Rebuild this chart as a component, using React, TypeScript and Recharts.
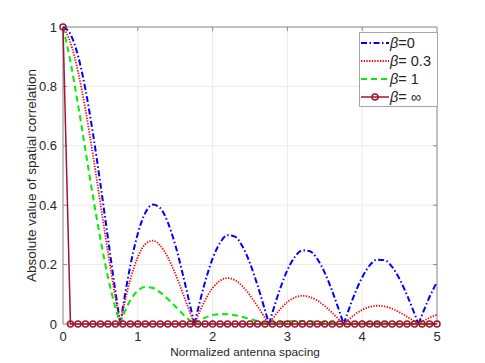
import React from 'react';
import {
  LineChart,
  Line,
  XAxis,
  YAxis,
  CartesianGrid,
  ReferenceLine,
  Legend,
} from 'recharts';

// normalized antenna spacing, sampled every 0.1
const xs = [
  0, 0.1, 0.2, 0.3, 0.4, 0.5, 0.6, 0.7, 0.8, 0.9,
  1, 1.1, 1.2, 1.3, 1.4, 1.5, 1.6, 1.7, 1.8, 1.9,
  2, 2.1, 2.2, 2.3, 2.4, 2.5, 2.6, 2.7, 2.8, 2.9,
  3, 3.1, 3.2, 3.3, 3.4, 3.5, 3.6, 3.7, 3.8, 3.9,
  4, 4.1, 4.2, 4.3, 4.4, 4.5, 4.6, 4.7, 4.8, 4.9, 5,
];

// spacings where the correlation touches zero (cusps)
const zeroXs = [0.766, 1.757, 2.755, 3.753, 4.752];

const beta0 = [
  1, 0.9755, 0.9037, 0.79, 0.6425, 0.472, 0.2906, 0.111, 0.0549, 0.1961,
  0.3042, 0.3741, 0.402, 0.3903, 0.3427, 0.2672, 0.1688, 0.0614, 0.0448, 0.142,
  0.2203, 0.2735, 0.2989, 0.294, 0.2611, 0.2045, 0.1306, 0.0468, 0.0383, 0.1168,
  0.1813, 0.2263, 0.248, 0.2452, 0.2188, 0.1721, 0.1101, 0.0391, 0.0337, 0.1014,
  0.1576, 0.1971, 0.2167, 0.2148, 0.1921, 0.1514, 0.0969, 0.0342, 0.0305, 0.0909, 0.1412,
];

const beta03 = [
  1, 0.9467, 0.8511, 0.722, 0.5698, 0.4063, 0.2427, 0.09, 0.0432, 0.1497,
  0.2254, 0.269, 0.2805, 0.2643, 0.2252, 0.1704, 0.1045, 0.0369, 0.0261, 0.0803,
  0.1209, 0.1457, 0.1545, 0.1475, 0.1271, 0.0966, 0.0599, 0.0208, 0.0165, 0.0489,
  0.0737, 0.0893, 0.095, 0.0911, 0.0789, 0.0602, 0.0374, 0.0129, 0.0108, 0.0315,
  0.0475, 0.0576, 0.0615, 0.0591, 0.0513, 0.0392, 0.0244, 0.0083, 0.0072, 0.0209, 0.0315,
];

const beta1 = [
  1, 0.8827, 0.7399, 0.5852, 0.4307, 0.2863, 0.1595, 0.0551, 0.0247, 0.0797,
  0.1119, 0.1245, 0.1211, 0.1064, 0.0845, 0.0596, 0.0341, 0.0112, 0.0074, 0.0212,
  0.0298, 0.0335, 0.0331, 0.0295, 0.0237, 0.0168, 0.0097, 0.0031, 0.0023, 0.0064,
  0.009, 0.0102, 0.0101, 0.009, 0.0073, 0.0052, 0.003, 0.001, 0.0008, 0.0021,
  0.0029, 0.0033, 0.0033, 0.0029, 0.0024, 0.0017, 0.001, 0.0003, 0.0003, 0.0007, 0.001,
];

const betaInf = [
  1, 0, 0, 0, 0, 0, 0, 0, 0, 0,
  0, 0, 0, 0, 0, 0, 0, 0, 0, 0,
  0, 0, 0, 0, 0, 0, 0, 0, 0, 0,
  0, 0, 0, 0, 0, 0, 0, 0, 0, 0,
  0, 0, 0, 0, 0, 0, 0, 0, 0, 0, 0,
];

const xTicks = [0, 1, 2, 3, 4, 5];
const yTicks = [0, 0.2, 0.4, 0.6, 0.8, 1];

const FONT = '"Liberation Sans", Arial, Helvetica, sans-serif';
const TEXT = '#262626';
const FRAME = '#8c8c8c';

type Pt = { x: number; y: number };

// split a curve into lobes at its zeros so each cusp stays sharp
function toLobes(vals: number[]): Pt[][] {
  const pts: Pt[] = xs
    .map((x, i) => ({ x, y: vals[i] }))
    .concat(zeroXs.map((x) => ({ x, y: 0 })))
    .sort((a, b) => a.x - b.x);
  const lobes: Pt[][] = [];
  let cur: Pt[] = [];
  pts.forEach((p) => {
    cur.push(p);
    if (zeroXs.includes(p.x) && cur.length > 1) {
      lobes.push(cur);
      cur = [p];
    }
  });
  if (cur.length > 1) lobes.push(cur);
  return lobes;
}

const SERIES = [
  { key: 'b0', label: '=0', vals: beta0, color: '#0000ff', width: 2, dash: '6 2.5 1.5 2.5' },
  { key: 'b03', label: '= 0.3', vals: beta03, color: '#ff0000', width: 1.8, dash: '1.3 1.4' },
  { key: 'b1', label: '= 1', vals: beta1, color: '#00ee00', width: 2, dash: '6 4' },
];

const INF_COLOR = '#a2142f';
const infData = xs.map((x, i) => ({ x, y: betaInf[i] }));

const LEGEND = [
  ...SERIES.map((s) => ({ label: s.label, color: s.color, width: s.width, dash: s.dash, marker: false })),
  { label: '= \u221e', color: INF_COLOR, width: 1.5, dash: undefined, marker: true },
];

function renderLegend() {
  return (
    <div
      style={{
        width: 79,
        height: 75,
        background: '#fff',
        border: '1px solid #a6a6a6',
        boxSizing: 'border-box',
      }}
    >
      <svg width={77} height={73} style={{ display: 'block' }}>
        {LEGEND.map((item, i) => {
          const y = 10 + i * 18;
          return (
            <g key={i}>
              <line
                x1={1}
                x2={29}
                y1={y}
                y2={y}
                stroke={item.color}
                strokeWidth={item.width}
                strokeDasharray={item.dash}
              />
              {item.marker && (
                <circle cx={15} cy={y} r={3} fill="none" stroke={item.color} strokeWidth={1.5} />
              )}
              <text x={30} y={y} dy="0.35em" fontSize={14.5} fontFamily={FONT} fill={TEXT}>
                <tspan fontStyle="italic">β</tspan>
                {item.label}
              </text>
            </g>
          );
        })}
      </svg>
    </div>
  );
}

function XTitle() {
  return (
    <text x={245} y={356} textAnchor="middle" fontSize={11.8} fontFamily={FONT} fill={TEXT}>
      Normalized antenna spacing
    </text>
  );
}

function YTitle() {
  return (
    <text
      x={0}
      y={0}
      transform="translate(36,175.5) rotate(-90)"
      textAnchor="middle"
      fontSize={13.5}
      fontFamily={FONT}
      fill={TEXT}
    >
      Absolute value of spatial correlation
    </text>
  );
}

export default function App() {
  const tx = 0.053; // inward tick length in x units
  const ty = 0.0135; // inward tick length in y units

  return (
    <div style={{ position: 'absolute', left: 0, top: 0, width: 485, height: 363, background: '#fff' }}>
      <LineChart
        width={485}
        height={363}
        margin={{ top: 27, right: 48, bottom: 9, left: 23 }}
      >
        <CartesianGrid stroke="#ebebeb" strokeWidth={1} />
        <XAxis
          type="number"
          dataKey="x"
          domain={[0, 5]}
          ticks={xTicks}
          height={30}
          axisLine={false}
          tickLine={false}
          tickSize={6}
          tickMargin={2}
          tick={{ fontSize: 13, fontFamily: FONT, fill: TEXT }}
          label={<XTitle />}
        />
        <YAxis
          type="number"
          domain={[0, 1]}
          ticks={yTicks}
          width={40}
          axisLine={false}
          tickLine={false}
          tickSize={6}
          tickMargin={0}
          tick={{ fontSize: 13, fontFamily: FONT, fill: TEXT }}
          label={<YTitle />}
        />

        {/* box frame */}
        <ReferenceLine x={0} stroke={FRAME} strokeWidth={1} />
        <ReferenceLine x={5} stroke={FRAME} strokeWidth={1} />
        <ReferenceLine y={0} stroke={FRAME} strokeWidth={1} />
        <ReferenceLine y={1} stroke={FRAME} strokeWidth={1} />

        {/* inward ticks on all four sides */}
        {xTicks.slice(1, -1).map((t) => (
          <ReferenceLine key={`xb${t}`} segment={[{ x: t, y: 0 }, { x: t, y: ty }]} stroke={FRAME} />
        ))}
        {xTicks.slice(1, -1).map((t) => (
          <ReferenceLine key={`xt${t}`} segment={[{ x: t, y: 1 }, { x: t, y: 1 - ty }]} stroke={FRAME} />
        ))}
        {yTicks.slice(1, -1).map((t) => (
          <ReferenceLine key={`yl${t}`} segment={[{ x: 0, y: t }, { x: tx, y: t }]} stroke={FRAME} />
        ))}
        {yTicks.slice(1, -1).map((t) => (
          <ReferenceLine key={`yr${t}`} segment={[{ x: 5, y: t }, { x: 5 - tx, y: t }]} stroke={FRAME} />
        ))}

        {SERIES.map((s) =>
          toLobes(s.vals).map((lobe, i) => (
            <Line
              key={`${s.key}-${i}`}
              data={lobe}
              dataKey="y"
              type="monotone"
              stroke={s.color}
              strokeWidth={s.width}
              strokeDasharray={s.dash}
              dot={false}
              activeDot={false}
              legendType="none"
              isAnimationActive={false}
            />
          ))
        )}

        <Line
          data={infData}
          dataKey="y"
          type="linear"
          stroke={INF_COLOR}
          strokeWidth={1.5}
          dot={{ r: 3, fill: 'none', stroke: INF_COLOR, strokeWidth: 1.5, clipDot: false }}
          activeDot={false}
          legendType="none"
          isAnimationActive={false}
        />

        <Legend
          layout="horizontal"
          verticalAlign="middle"
          align="center"
          content={renderLegend}
          wrapperStyle={{ left: 359, top: 32, width: 79, height: 75 }}
        />
      </LineChart>
    </div>
  );
}
